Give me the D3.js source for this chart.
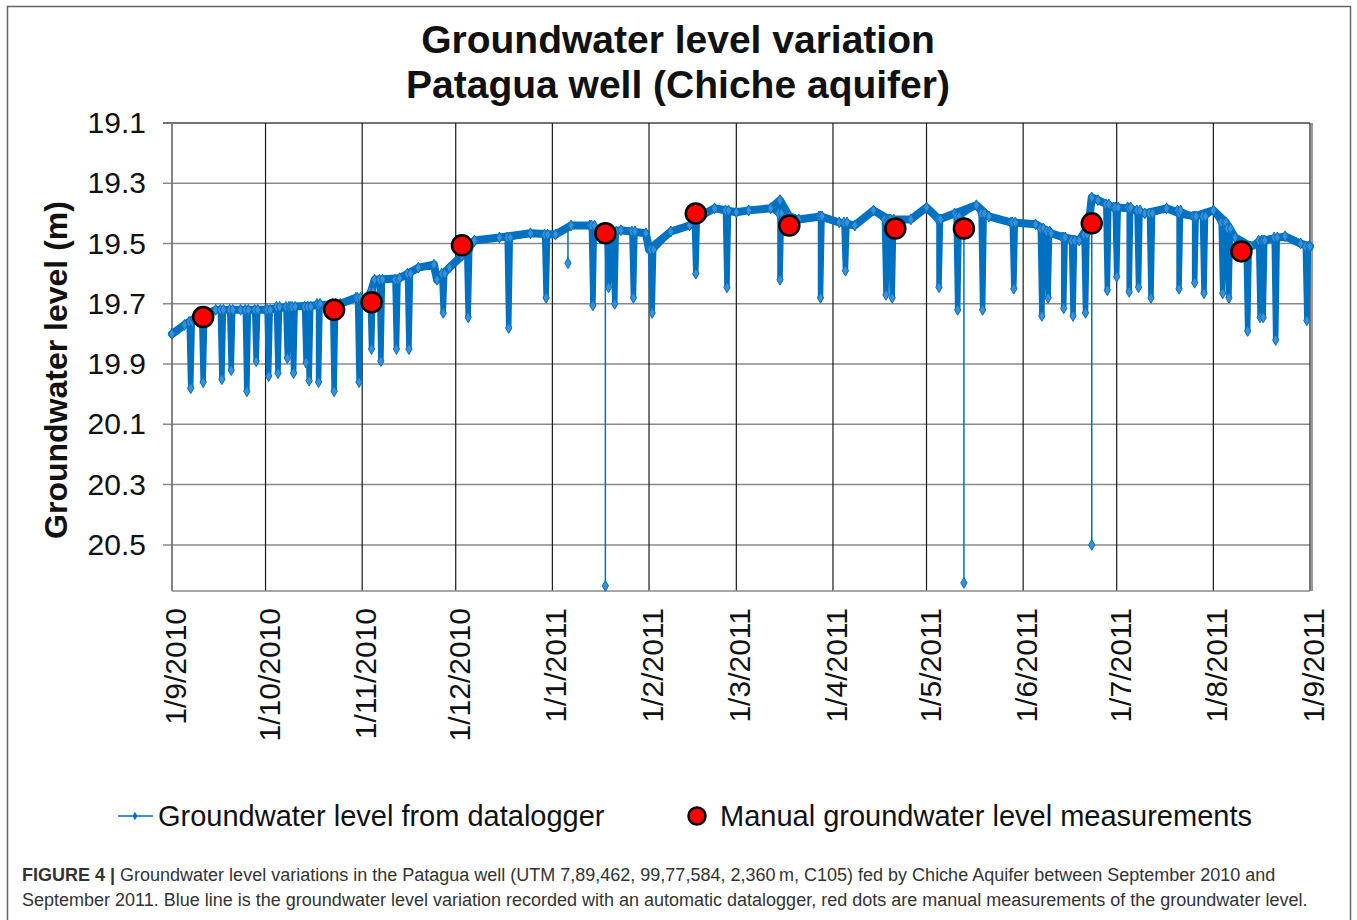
<!DOCTYPE html>
<html>
<head>
<meta charset="utf-8">
<script src="https://cdn.jsdelivr.net/npm/d3@7"></script>
<style>
  body { margin: 0; background: #fff; }
  text { font-family: "Liberation Sans", Arial, sans-serif; }
</style>
</head>
<body>
<div id="graph"></div>
<script>
// baseline of the datalogger record [date, level (m)]
var loggerBase = [
  ["2010-09-01", 19.80], ["2010-09-05", 19.77], ["2010-09-08", 19.75], ["2010-09-15", 19.72],
  ["2010-09-23", 19.72], ["2010-10-01", 19.72], ["2010-10-09", 19.71], ["2010-10-18", 19.705],
  ["2010-10-25", 19.70], ["2010-10-30", 19.68], ["2010-11-03", 19.69], ["2010-11-05", 19.62],
  ["2010-11-13", 19.615], ["2010-11-19", 19.58], ["2010-11-24", 19.57], ["2010-11-25", 19.62],
  ["2010-11-29", 19.58], ["2010-12-03", 19.54], ["2010-12-07", 19.49], ["2010-12-15", 19.48],
  ["2010-12-25", 19.466], ["2011-01-02", 19.47], ["2011-01-07", 19.44], ["2011-01-13", 19.44],
  ["2011-01-16", 19.466], ["2011-01-23", 19.456], ["2011-01-31", 19.466], ["2011-02-01", 19.52],
  ["2011-02-08", 19.46], ["2011-02-14", 19.44], ["2011-02-19", 19.40], ["2011-02-22", 19.383],
  ["2011-03-01", 19.396], ["2011-03-05", 19.39], ["2011-03-12", 19.383], ["2011-03-15", 19.356],
  ["2011-03-18", 19.41], ["2011-03-21", 19.42], ["2011-03-28", 19.41], ["2011-04-03", 19.43],
  ["2011-04-08", 19.44], ["2011-04-14", 19.39], ["2011-04-19", 19.42], ["2011-04-26", 19.42],
  ["2011-05-01", 19.38], ["2011-05-05", 19.42], ["2011-05-10", 19.40], ["2011-05-17", 19.373],
  ["2011-05-21", 19.41], ["2011-05-28", 19.43], ["2011-06-05", 19.436], ["2011-06-10", 19.466],
  ["2011-06-14", 19.48], ["2011-06-19", 19.49], ["2011-06-22", 19.44], ["2011-06-23", 19.347],
  ["2011-06-25", 19.356], ["2011-06-30", 19.38], ["2011-07-05", 19.383], ["2011-07-10", 19.40],
  ["2011-07-17", 19.383], ["2011-07-21", 19.40], ["2011-07-26", 19.41], ["2011-08-01", 19.39],
  ["2011-08-05", 19.43], ["2011-08-08", 19.48], ["2011-08-13", 19.51], ["2011-08-17", 19.49],
  ["2011-08-24", 19.476], ["2011-08-29", 19.50], ["2011-09-01", 19.51]
];

// pumping drawdowns in the datalogger record [date, level before, lowest level]
var loggerDrawdowns = [
  ["2010-09-07", 19.76, 19.98], ["2010-09-11", 19.74, 19.96], ["2010-09-17", 19.72, 19.95],
  ["2010-09-20", 19.72, 19.92], ["2010-09-25", 19.72, 19.99], ["2010-09-28", 19.72, 19.89],
  ["2010-10-02", 19.72, 19.94], ["2010-10-05", 19.71, 19.93], ["2010-10-08", 19.71, 19.88],
  ["2010-10-10", 19.71, 19.93], ["2010-10-14", 19.71, 19.895], ["2010-10-15", 19.71, 19.955],
  ["2010-10-18", 19.70, 19.96], ["2010-10-23", 19.70, 19.99], ["2010-10-31", 19.68, 19.96],
  ["2010-11-04", 19.66, 19.85], ["2010-11-07", 19.62, 19.89], ["2010-11-12", 19.62, 19.85],
  ["2010-11-16", 19.60, 19.85], ["2010-11-27", 19.60, 19.73], ["2010-12-05", 19.52, 19.745],
  ["2010-12-18", 19.48, 19.78], ["2010-12-30", 19.47, 19.68], ["2011-01-14", 19.44, 19.705],
  ["2011-01-19", 19.46, 19.645], ["2011-01-21", 19.46, 19.70], ["2011-01-27", 19.46, 19.68],
  ["2011-02-02", 19.52, 19.73], ["2011-02-16", 19.42, 19.60], ["2011-02-26", 19.39, 19.645],
  ["2011-03-15", 19.40, 19.62], ["2011-03-28", 19.41, 19.68], ["2011-04-05", 19.43, 19.59],
  ["2011-04-18", 19.42, 19.67], ["2011-04-20", 19.42, 19.68], ["2011-05-05", 19.42, 19.645],
  ["2011-05-11", 19.41, 19.72], ["2011-05-19", 19.40, 19.72], ["2011-05-29", 19.43, 19.65],
  ["2011-06-07", 19.45, 19.74], ["2011-06-09", 19.46, 19.68], ["2011-06-14", 19.48, 19.715],
  ["2011-06-17", 19.49, 19.74], ["2011-06-21", 19.47, 19.73], ["2011-06-28", 19.37, 19.655],
  ["2011-07-01", 19.38, 19.61], ["2011-07-05", 19.38, 19.66], ["2011-07-08", 19.39, 19.645],
  ["2011-07-12", 19.40, 19.68], ["2011-07-21", 19.39, 19.65], ["2011-07-26", 19.41, 19.63],
  ["2011-07-29", 19.41, 19.665], ["2011-08-04", 19.43, 19.665], ["2011-08-06", 19.45, 19.68],
  ["2011-08-12", 19.51, 19.79], ["2011-08-16", 19.49, 19.745], ["2011-08-17", 19.49, 19.745],
  ["2011-08-21", 19.48, 19.82], ["2011-08-31", 19.51, 19.755]
];

// single isolated datalogger readings [date, level before, reading]
var loggerSingles = [
  ["2011-01-06", 19.44, 19.565], ["2011-01-18", 19.46, 20.636],
  ["2011-05-13", 19.41, 20.626], ["2011-06-23", 19.44, 20.50]
];

// manual measurements
var manualDates = ["2010-09-11", "2010-10-23", "2010-11-04", "2010-12-03", "2011-01-18", "2011-02-16",
                   "2011-03-18", "2011-04-21", "2011-05-13", "2011-06-23", "2011-08-10"];
var manualLevels = [19.744, 19.72, 19.695, 19.506, 19.466, 19.40, 19.44, 19.45, 19.45, 19.433, 19.526];

var yTicks = [19.1, 19.3, 19.5, 19.7, 19.9, 20.1, 20.3, 20.5];
var monthTicks = ["2010-09-01", "2010-10-01", "2010-11-01", "2010-12-01", "2011-01-01", "2011-02-01",
                  "2011-03-01", "2011-04-01", "2011-05-01", "2011-06-01", "2011-07-01", "2011-08-01", "2011-09-01"];

var width = 1357, height = 920;
var plotLeft = 172, plotRight = 1310, plotTop = 123, plotBottom = 591;
var blue = '#0070c0';

var parse = d3.timeParse('%Y-%m-%d');
var hour = 3600 * 1000;

var svg = d3.select('#graph').append('svg')
    .attr('width', width).attr('height', height);

// figure frame
svg.append('rect')
  .attr('x', 7.5).attr('y', 6.5).attr('width', 1343).attr('height', 940)
  .attr('fill', 'none').attr('stroke', '#666').attr('stroke-width', 1.5);

var x = d3.scaleTime()
  .domain([parse('2010-09-01'), parse('2011-09-01')])
  .range([plotLeft, plotRight]);
var y = d3.scaleLinear()
  .domain([19.1, 20.653])
  .range([plotTop, plotBottom]);

// horizontal grid
svg.append('g').selectAll('line').data(yTicks).enter().append('line')
  .attr('x1', plotLeft - 9).attr('x2', plotRight)
  .attr('y1', d => y(d)).attr('y2', d => y(d))
  .attr('stroke', d => d === 19.1 ? '#444' : '#8a8a8a').attr('stroke-width', 1.5);

// vertical grid
svg.append('g').selectAll('line').data(monthTicks).enter().append('line')
  .attr('x1', d => x(parse(d))).attr('x2', d => x(parse(d)))
  .attr('y1', plotTop).attr('y2', plotBottom)
  .attr('stroke', '#1a1a1a').attr('stroke-width', 1.2);

// plot frame
svg.append('line').attr('x1', plotLeft).attr('x2', plotLeft).attr('y1', plotTop).attr('y2', plotBottom)
  .attr('stroke', '#8a8a8a').attr('stroke-width', 1.5);
svg.append('line').attr('x1', plotLeft).attr('x2', plotRight).attr('y1', plotBottom).attr('y2', plotBottom)
  .attr('stroke', '#8a8a8a').attr('stroke-width', 1.5);
svg.append('line').attr('x1', plotRight + 2).attr('x2', plotRight + 2).attr('y1', plotTop).attr('y2', plotBottom)
  .attr('stroke', '#555').attr('stroke-width', 1.2);

// y axis labels
var yAxis = svg.append('g')
  .attr('transform', 'translate(' + plotLeft + ',0)')
  .call(d3.axisLeft(y).tickValues(yTicks).tickFormat(d3.format('.1f')).tickSize(0).tickPadding(26));
yAxis.select('.domain').remove();
yAxis.selectAll('text').attr('font-size', 30).attr('fill', '#111')
  .style('font-family', '"Liberation Sans", Arial, sans-serif');

// x axis labels
var xAxis = svg.append('g')
  .attr('transform', 'translate(0,' + plotBottom + ')')
  .call(d3.axisBottom(x).tickValues(monthTicks.map(parse)).tickFormat(d3.timeFormat('%-d/%-m/%Y')).tickSize(0));
xAxis.select('.domain').remove();
xAxis.selectAll('text')
  .attr('font-size', 30).attr('fill', '#111')
  .style('font-family', '"Liberation Sans", Arial, sans-serif')
  .attr('text-anchor', 'end')
  .attr('transform', 'rotate(-90)')
  .attr('x', -17).attr('y', 3).attr('dy', '0.35em');

// datalogger series: baseline plus drawdowns
var base = loggerBase.map(d => ({date: parse(d[0]), level: d[1]}));
var logger = base.slice();
loggerDrawdowns.forEach(function(d) {
  var t = parse(d[0]);
  logger.push({date: new Date(+t - 12 * hour), level: d[1]});
  logger.push({date: t, level: d[2]});
  logger.push({date: new Date(+t + 12 * hour), level: d[1]});
});
logger.sort((a, b) => a.date - b.date);

var line = d3.line().x(d => x(d.date)).y(d => y(d.level));

var plot = svg.append('g');
plot.append('path')
  .datum(logger)
  .attr('d', line)
  .attr('fill', 'none')
  .attr('stroke', blue)
  .attr('stroke-width', 5.5)
  .attr('stroke-linejoin', 'round')
  .attr('stroke-linecap', 'round');
// the daily oscillation makes the undisturbed record a wide band
plot.append('path')
  .datum(base)
  .attr('d', line)
  .attr('fill', 'none')
  .attr('stroke', blue)
  .attr('stroke-width', 8)
  .attr('stroke-linejoin', 'round')
  .attr('stroke-linecap', 'round');

var diamond = d3.symbol().type(d3.symbolDiamond).size(34);

plot.selectAll('.mk').data(logger).enter().append('path')
  .attr('class', 'mk')
  .attr('d', diamond)
  .attr('transform', d => 'translate(' + x(d.date) + ',' + y(d.level) + ')')
  .attr('fill', '#3a8fd6').attr('stroke', blue).attr('stroke-width', 1);

var singles = plot.selectAll('.single').data(loggerSingles).enter().append('g').attr('class', 'single');
singles.append('line')
  .attr('x1', d => x(parse(d[0]))).attr('x2', d => x(parse(d[0])))
  .attr('y1', d => y(d[1])).attr('y2', d => y(d[2]))
  .attr('stroke', blue).attr('stroke-width', 1.5);
singles.append('path')
  .attr('d', diamond)
  .attr('transform', d => 'translate(' + x(parse(d[0])) + ',' + y(d[2]) + ')')
  .attr('fill', '#3a8fd6').attr('stroke', blue).attr('stroke-width', 1);

// manual measurements
plot.selectAll('.manual').data(manualDates).enter().append('circle')
  .attr('class', 'manual')
  .attr('cx', d => x(parse(d)))
  .attr('cy', (d, i) => y(manualLevels[i]))
  .attr('r', 10)
  .attr('fill', '#ff0000').attr('stroke', '#000').attr('stroke-width', 2.5);

// titles
svg.append('text').attr('x', 678).attr('y', 53).attr('text-anchor', 'middle')
  .attr('font-size', 39).attr('font-weight', 'bold').attr('fill', '#111')
  .text('Groundwater level variation');
svg.append('text').attr('x', 678).attr('y', 98).attr('text-anchor', 'middle')
  .attr('font-size', 39).attr('font-weight', 'bold').attr('fill', '#111')
  .text('Patagua well (Chiche aquifer)');

svg.append('text')
  .attr('transform', 'translate(67,370) rotate(-90)')
  .attr('text-anchor', 'middle')
  .attr('font-size', 32).attr('font-weight', 'bold').attr('fill', '#111')
  .text('Groundwater level (m)');

// legend
var lg = svg.append('g');
lg.append('line').attr('x1', 118).attr('x2', 153).attr('y1', 816).attr('y2', 816)
  .attr('stroke', '#3a8fd6').attr('stroke-width', 2);
lg.append('path').attr('d', d3.symbol().type(d3.symbolDiamond).size(22))
  .attr('transform', 'translate(135,816)').attr('fill', blue);
lg.append('text').attr('x', 158).attr('y', 826).attr('font-size', 29).attr('fill', '#111')
  .text('Groundwater level from datalogger');
lg.append('circle').attr('cx', 697).attr('cy', 816).attr('r', 8.5)
  .attr('fill', '#ff0000').attr('stroke', '#000').attr('stroke-width', 2.5);
lg.append('text').attr('x', 720).attr('y', 826).attr('font-size', 29).attr('fill', '#111')
  .text('Manual groundwater level measurements');

// caption
var cap = svg.append('text').attr('x', 22).attr('y', 881).attr('font-size', 18).attr('fill', '#333');
cap.append('tspan').attr('font-weight', 'bold').text('FIGURE 4 | ');
cap.append('tspan').text('Groundwater level variations in the Patagua well (UTM 7,89,462, 99,77,584, 2,360\u2009m, C105) fed by Chiche Aquifer between September 2010 and');
svg.append('text').attr('x', 22).attr('y', 906).attr('font-size', 18).attr('fill', '#333')
  .text('September 2011. Blue line is the groundwater level variation recorded with an automatic datalogger, red dots are manual measurements of the groundwater level.');
</script>
</body>
</html>
